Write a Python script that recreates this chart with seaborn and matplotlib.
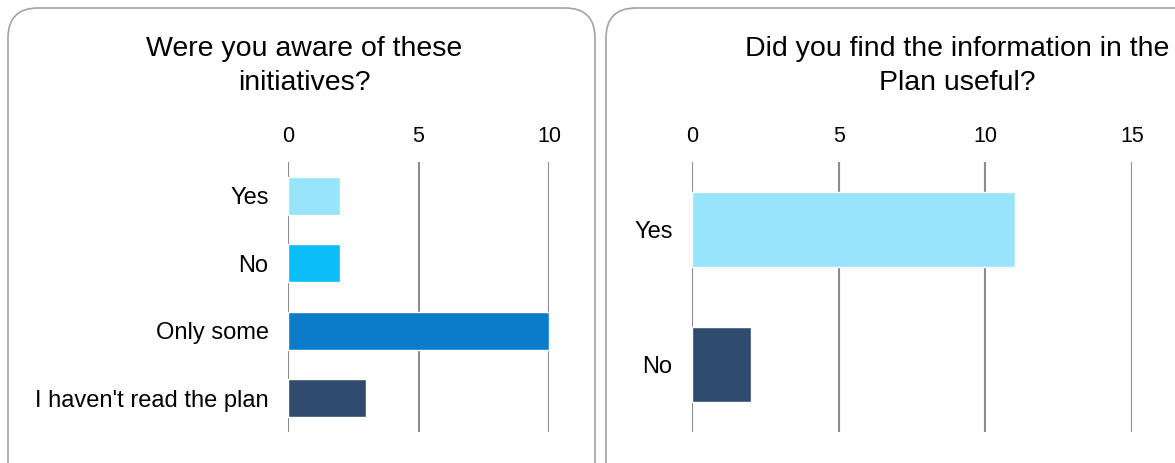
import matplotlib
matplotlib.use("Agg")
import matplotlib.pyplot as plt
import seaborn as sns
from matplotlib.patches import FancyBboxPatch

# data
aware_labels = ["Yes", "No", "Only some", "I haven't read the plan"]
aware_values = [2, 2, 10, 3]
aware_colors = ["#99E4FD", "#0BBEF8", "#0B7CCA", "#2F4B6D"]

useful_labels = ["Yes", "No"]
useful_values = [11, 2]
useful_colors = ["#99E4FD", "#2F4B6D"]

sns.set_style("white")
plt.rcParams["font.family"] = ["Liberation Sans", "DejaVu Sans"]

fig = plt.figure(figsize=(11.75, 4.63), dpi=100)

# rounded panel frames
for x0, x1 in [(0.08, 5.95), (6.06, 12.1)]:
    box = FancyBboxPatch((x0, -0.3), x1 - x0, 4.85,
                         boxstyle="round,pad=0,rounding_size=0.3",
                         transform=fig.dpi_scale_trans, fill=False,
                         edgecolor="#A3A3A3", linewidth=1.2, clip_on=False)
    fig.add_artist(box)

grid_color = "#8C8C8C"


def panel(ax, labels, values, colors, xmax, ticks):
    sns.barplot(x=values, y=labels, hue=labels, palette=colors, width=0.56,
                legend=False, orient="h", ax=ax, saturation=1, zorder=3)
    ax.set_xlim(0, xmax)
    ax.set_ylim(len(labels) - 0.5, -0.5)
    ax.set_xticks(ticks)
    for t in ticks:
        ax.axvline(t, color=grid_color, linewidth=1.5, zorder=1)
    ax.xaxis.tick_top()
    ax.tick_params(axis="x", length=0, pad=11, labelsize=15.5, colors="black")
    ax.tick_params(axis="y", length=0, pad=14, labelsize=17, colors="black")
    ax.set_xlabel("")
    ax.set_ylabel("")
    for s in ax.spines.values():
        s.set_visible(False)
    ax.patch.set_alpha(0)


ax1 = fig.add_axes([288 / 1175, 1 - 432 / 463, (549 - 288) / 1175, 270 / 463])
panel(ax1, aware_labels, aware_values, aware_colors, 10, [0, 5, 10])

ax2 = fig.add_axes([692 / 1175, 1 - 432 / 463, (1132 - 692) / 1175, 270 / 463])
panel(ax2, useful_labels, useful_values, useful_colors, 15, [0, 5, 10, 15])

fig.text(304 / 1175, 1 - 66 / 463, "Were you aware of these\ninitiatives?",
         ha="center", va="center", fontsize=20.5, linespacing=1.42, color="black")
fig.text(957 / 1175, 1 - 66 / 463, "Did you find the information in the\nPlan useful?",
         ha="center", va="center", fontsize=20.5, linespacing=1.42, color="black")

fig.savefig("out.png", dpi=100)
